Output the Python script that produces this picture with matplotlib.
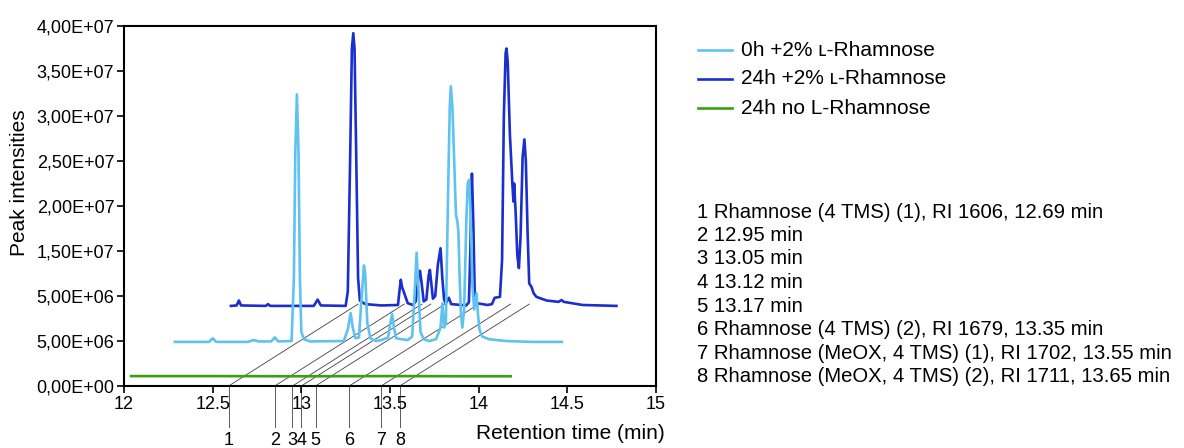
"""GC-MS chromatogram overlay of rhamnose samples with labelled peaks."""
import matplotlib
matplotlib.use('Agg')
import matplotlib.pyplot as plt
import numpy as np

plt.rcParams['font.family'] = ['Liberation Sans', 'DejaVu Sans']

# ── data (x in min, y in 1e6 counts) ───────────────────────────────────────
green_x = [12.04, 12.50, 13.00, 13.50, 14.00, 14.18]
green_y = [1.10, 1.10, 1.08, 1.10, 1.08, 1.08]

light_x = [12.287, 12.48, 12.50, 12.52, 12.70, 12.73, 12.76, 12.83, 12.85, 12.87,
           12.945, 12.958, 12.966, 12.975, 12.984, 12.992, 13.000, 13.015, 13.05,
           13.24, 13.262, 13.278, 13.29, 13.305, 13.325, 13.337, 13.353, 13.36,
           13.372, 13.39, 13.42, 13.45, 13.49, 13.500, 13.512, 13.522, 13.535,
           13.60, 13.625, 13.638, 13.650, 13.660, 13.672, 13.69, 13.72, 13.76,
           13.785, 13.796, 13.805, 13.815, 13.828, 13.837, 13.843, 13.852, 13.862,
           13.872, 13.880, 13.886, 13.892, 13.90, 13.908, 13.918, 13.930, 13.938,
           13.946, 13.955, 13.965, 13.975, 13.988, 13.996, 14.005, 14.02, 14.06,
           14.15, 14.30, 14.469]
light_y = [4.9, 4.9, 5.3, 4.9, 4.9, 5.1, 4.95, 4.95, 5.4, 4.95,
           5.0, 12.0, 26.0, 32.4, 26.0, 12.0, 6.0, 5.2, 4.95,
           5.0, 6.3, 8.1, 6.5, 5.3, 5.4, 9.0, 13.4, 12.5,
           7.0, 5.3, 5.0, 5.1, 5.4, 6.8, 8.0, 6.5, 5.3,
           5.1, 5.5, 10.0, 14.8, 11.0, 6.0, 5.2, 5.0, 5.2,
           6.5, 9.2, 6.5, 7.0, 22.0, 31.0, 33.3, 31.0, 25.0,
           19.0, 18.3, 17.0, 12.5, 8.0, 6.5, 8.5, 18.0, 22.5,
           22.9, 19.0, 11.0, 8.5, 10.3, 8.0, 6.2, 5.5, 5.2,
           5.0, 4.9, 4.9]

dark_x = [12.603, 12.635, 12.648, 12.66, 12.80, 12.812, 12.825, 13.07, 13.092, 13.11,
          13.25, 13.262, 13.275, 13.285, 13.293, 13.300, 13.310, 13.320, 13.330,
          13.36, 13.45, 13.545, 13.553, 13.561, 13.568, 13.584, 13.600, 13.629,
          13.645, 13.660, 13.669, 13.678, 13.690, 13.705, 13.718, 13.725, 13.735,
          13.742, 13.755, 13.770, 13.785, 13.795, 13.805, 13.815, 13.832, 13.845,
          13.93, 13.945, 13.953, 13.962, 13.970, 13.978, 13.99, 14.05, 14.075,
          14.09, 14.12, 14.132, 14.142, 14.152, 14.157, 14.164, 14.176, 14.190,
          14.196, 14.200, 14.208, 14.218, 14.227, 14.236, 14.248, 14.258, 14.266,
          14.276, 14.285, 14.298, 14.31, 14.326, 14.383, 14.45, 14.467, 14.48,
          14.587, 14.777]
dark_y = [8.9, 8.95, 9.5, 8.95, 8.9, 9.1, 8.9, 8.9, 9.6, 8.95,
          8.9, 10.5, 25.0, 37.5, 39.2, 37.5, 25.0, 12.0, 9.5,
          9.1, 8.95, 9.0, 10.5, 11.8, 11.0, 10.1, 9.2, 9.0,
          9.4, 12.0, 12.8, 11.5, 9.4, 9.6, 12.3, 12.9, 11.0,
          9.7, 10.0, 13.5, 15.3, 12.0, 9.6, 9.2, 9.8, 9.1,
          8.95, 9.3, 15.0, 23.6, 18.0, 10.0, 9.2, 9.0, 9.1,
          9.8, 9.9, 14.0, 30.0, 37.0, 37.5, 36.0, 28.0, 22.5,
          20.5, 22.5, 19.5, 14.5, 13.1, 16.5, 25.5, 27.4, 25.0,
          17.0, 11.4, 11.0, 10.3, 9.9, 9.5, 9.35, 9.55, 9.35,
          9.0, 8.9]

series_labels = ['0h +2% \u029f-Rhamnose', '24h +2% \u029f-Rhamnose', '24h no L-Rhamnose']
series_colors = ['#5fc2ef', '#1a2fcc', '#3c9f12']

marker_x = [12.59, 12.85, 12.95, 13.00, 13.08, 13.27, 13.45, 13.555]
marker_labels = ['1', '2', '3', '4', '5', '6', '7', '8']

compounds = [
    '1 Rhamnose (4 TMS) (1), RI 1606, 12.69 min',
    '2 12.95 min',
    '3 13.05 min',
    '4 13.12 min',
    '5 13.17 min',
    '6 Rhamnose (4 TMS) (2), RI 1679, 13.35 min',
    '7 Rhamnose (MeOX, 4 TMS) (1), RI 1702, 13.55 min',
    '8 Rhamnose (MeOX, 4 TMS) (2), RI 1711, 13.65 min',
]

xticks = [12, 12.5, 13, 13.5, 14, 14.5, 15]
xtick_labels = ['12', '12.5', '13', '13.5', '14', '14.5', '15']
yticks = [0, 5e6, 1e7, 1.5e7, 2e7, 2.5e7, 3e7, 3.5e7, 4e7]
ytick_labels = ['0,00E+00', '5,00E+06', '5,00E+06', '1,50E+07', '2,00E+07',
                '2,50E+07', '3,00E+07', '3,50E+07', '4,00E+07']

FS = 13       # ticks, peak numbers
FS_BIG = 15   # axis titles, legend
FS_LIST = 14.6  # compound list
W, H = 1184, 448

fig = plt.figure(figsize=(W / 100, H / 100), dpi=100)
ax = fig.add_axes([124 / W, 1 - 386 / H, 532 / W, 360 / H])

# traces: dark behind light
ax.plot(dark_x, np.array(dark_y) * 1e6, color=series_colors[1], lw=1.9, zorder=3)
ax.plot(light_x, np.array(light_y) * 1e6, color=series_colors[0], lw=1.9, zorder=4)
ax.plot(green_x, np.array(green_y) * 1e6, color=series_colors[2], lw=1.9, zorder=4)

# peak markers: vertical stub below the axis, then slanted line up to the traces
for mx, lab in zip(marker_x, marker_labels):
    ax.plot([mx, mx], [-4.6e6, 0], color='#404040', lw=0.6, clip_on=False, zorder=1)
    ax.plot([mx, mx + 0.73], [0, 9.1e6], color='#404040', lw=0.6, zorder=1)
    ax.text(mx, -6.6e6, lab, ha='center', va='baseline', fontsize=FS, clip_on=False)

ax.set_xlim(12, 15)
ax.set_ylim(0, 4e7)
ax.set_xticks(xticks)
ax.set_xticklabels(xtick_labels, fontsize=FS)
ax.set_yticks(yticks)
ax.set_yticklabels(ytick_labels, fontsize=FS)
ax.tick_params(direction='out', length=5, width=1.2, pad=2)
for sp in ax.spines.values():
    sp.set_linewidth(1.5)

ax.set_ylabel('Peak intensities', fontsize=FS_BIG)
ax.yaxis.set_label_coords(-0.178, 0.564)
ax.set_xlabel('Retention time (min)', fontsize=FS_BIG, loc='right')
ax.xaxis.set_label_coords(1.017, -0.105)

# legend drawn by hand to sit at the right of the plot
for i, (lab, col) in enumerate(zip(series_labels, series_colors)):
    yy = 1 - (50 + i * 29) / H
    fig.add_artist(plt.Line2D([698 / W, 732 / W], [yy, yy], color=col, lw=1.9))
    fig.text(741 / W, yy, lab, fontsize=FS_BIG, va='center', ha='left')

# compound list
for i, txt in enumerate(compounds):
    fig.text(697 / W, 1 - (212 + i * 23.5) / H, txt, fontsize=FS_LIST, va='center', ha='left')

fig.savefig('out.png', dpi=100)
